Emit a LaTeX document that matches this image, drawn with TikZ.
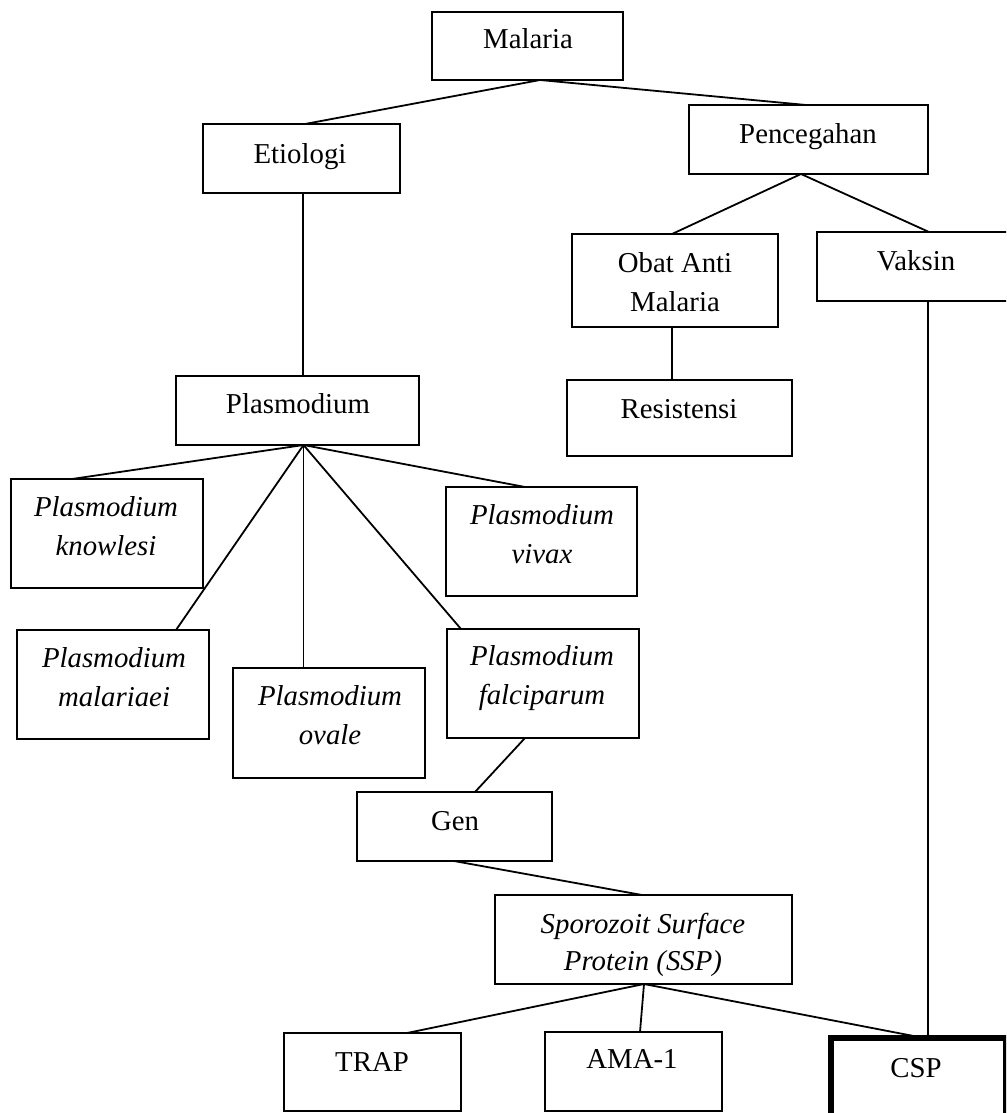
\documentclass[tikz,border=0pt]{standalone}
\usepackage{fontspec}
\setmainfont{Liberation Serif}
\begin{document}
\begin{tikzpicture}[x=1pt,y=-1pt,
  box/.style={draw, line width=1.8pt, inner sep=0pt, outer sep=0pt},
  thickbox/.style={draw, line width=6pt, inner sep=0pt, outer sep=0pt},
  conn/.style={line width=1.8pt},
  txt/.style={anchor=base, inner sep=0pt, font=\fontsize{28.8}{34}\selectfont},
  itxt/.style={anchor=base, inner sep=0pt, font=\fontsize{28.8}{34}\selectfont\itshape}]
\useasboundingbox (0,0) rectangle (1006,1113);
\clip (0,0) rectangle (1006,1113);
% boxes
\node[box, minimum width=191pt, minimum height=68pt] (mal) at (527.5,46) {};
\node[box, minimum width=197pt, minimum height=69pt] (eti) at (301.5,158.5) {};
\node[box, minimum width=239pt, minimum height=69pt] (pen) at (808.5,139.5) {};
\node[box, minimum width=206pt, minimum height=93pt] (obat) at (675,280.5) {};
\node[box, minimum width=198pt, minimum height=69pt] (vak) at (916,266.5) {};
\node[box, minimum width=225pt, minimum height=76pt] (res) at (679.5,418) {};
\node[box, minimum width=243pt, minimum height=69pt] (pla) at (297.5,410.5) {};
\node[box, minimum width=192pt, minimum height=109pt] (kno) at (107,533.5) {};
\node[box, minimum width=191pt, minimum height=109pt] (viv) at (541.5,541.5) {};
\node[box, minimum width=192pt, minimum height=109pt] (mlr) at (113,684.5) {};
\node[box, minimum width=192pt, minimum height=110pt] (ova) at (329,723) {};
\node[box, minimum width=192pt, minimum height=109pt] (fal) at (543,683.5) {};
\node[box, minimum width=195pt, minimum height=69pt] (gen) at (454.5,826.5) {};
\node[box, minimum width=297pt, minimum height=89pt] (ssp) at (643.5,939.5) {};
\node[box, minimum width=177pt, minimum height=78pt] (trap) at (372.5,1072) {};
\node[box, minimum width=177pt, minimum height=79pt] (ama) at (633.5,1071.5) {};
\node[thickbox, minimum width=175pt, minimum height=80pt] (csp) at (918.5,1078) {};
% texts
\node[txt] (malT) at (528,49) {Malaria};
\node[txt] (etiT) at (300,163) {Etiologi};
\node[txt] (penT) at (808,143) {Pencegahan};
\node[txt] (obatT1) at (675,272) {Obat Anti};
\node[txt] (obatT2) at (675,311) {Malaria};
\node[txt] (vakT) at (916,270) {Vaksin};
\node[txt] (resT) at (679,418) {Resistensi};
\node[txt] (plaT) at (298,413) {Plasmodium};
\node[itxt] (knoT1) at (106,516) {Plasmodium};
\node[itxt] (knoT2) at (106,555) {knowlesi};
\node[itxt] (vivT1) at (542,524) {Plasmodium};
\node[itxt] (vivT2) at (542,563) {vivax};
\node[itxt] (mlrT1) at (114,667) {Plasmodium};
\node[itxt] (mlrT2) at (114,706) {malariaei};
\node[itxt] (ovaT1) at (330,705) {Plasmodium};
\node[itxt] (ovaT2) at (330,744) {ovale};
\node[itxt] (falT1) at (542,665) {Plasmodium};
\node[itxt] (falT2) at (542,704) {falciparum};
\node[txt] (genT) at (455,830) {Gen};
\node[itxt] (sspT1) at (643,933) {Sporozoit Surface};
\node[itxt] (sspT2) at (643,970) {Protein (SSP)};
\node[txt] (trapT) at (372,1071) {TRAP};
\node[txt] (amaT) at (632,1068) {AMA-1};
\node[txt] (cspT) at (916,1077) {CSP};
% connectors
\draw[conn] ([xshift=12.5pt]mal.south) -- ([xshift=3.5pt]eti.north);
\draw[conn] ([xshift=12.5pt]mal.south) -- ([xshift=-2.5pt]pen.north);
\draw[conn] ([xshift=-7.5pt]pen.south) -- ([xshift=-3pt]obat.north);
\draw[conn] ([xshift=-7.5pt]pen.south) -- ([xshift=13pt]vak.north);
\draw[conn] ([xshift=1.5pt]eti.south) -- ([xshift=5.5pt]pla.north);
\draw[conn] ([xshift=-3pt]obat.south) -- ([xshift=-7.5pt]res.north);
\draw[conn] ([xshift=12pt]vak.south) -- ([xshift=9.5pt]csp.north);
\draw[conn] ([xshift=6pt]pla.south) -- ([xshift=-35pt]kno.north);
\draw[conn] ([xshift=6pt]pla.south) -- ([xshift=63pt]mlr.north);
\draw[conn] ([xshift=6pt]pla.south) -- ([xshift=-25.5pt]ova.north);
\draw[conn] ([xshift=6pt]pla.south) -- ([xshift=-82pt]fal.north);
\draw[conn] ([xshift=6pt]pla.south) -- ([xshift=-16.5pt]viv.north);
\draw[conn] ([xshift=-18pt]fal.south) -- ([xshift=20.5pt]gen.north);
\draw[conn] ([xshift=-0.5pt]gen.south) -- ([xshift=-1.5pt]ssp.north);
\draw[conn] ([xshift=0.5pt]ssp.south) -- ([xshift=34.5pt]trap.north);
\draw[conn] ([xshift=0.5pt]ssp.south) -- ([xshift=6.5pt]ama.north);
\draw[conn] ([xshift=0.5pt]ssp.south) -- ([xshift=5.5pt]csp.north);
\end{tikzpicture}
\end{document}
